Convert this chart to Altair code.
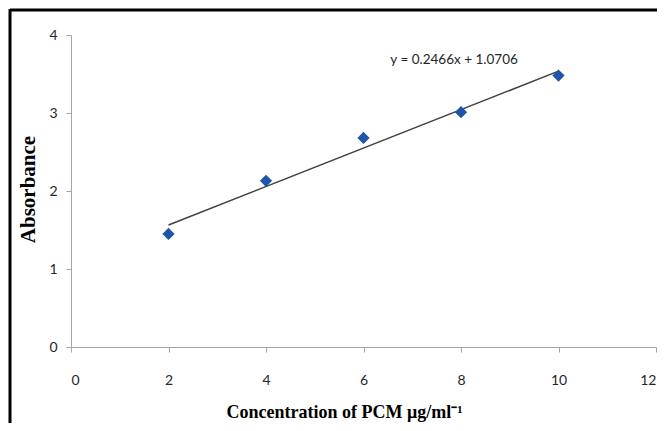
import altair as alt
import pandas as pd

# data
conc = [2, 4, 6, 8, 10]
absorb = [1.45, 2.13, 2.68, 3.01, 3.48]
slope = 0.2466
intercept = 1.0706
eq_label = "y = 0.2466x + 1.0706"
x_ticks = [0, 2, 4, 6, 8, 10, 12]
y_ticks = [0, 1, 2, 3, 4]

pts = pd.DataFrame({"x": conc, "y": absorb})
fit = pd.DataFrame({"x": [conc[0], conc[-1]],
                    "y": [slope * conc[0] + intercept, slope * conc[-1] + intercept]})
eq = pd.DataFrame({"x": [6.55], "y": [3.68], "t": [eq_label]})

W, H = 585, 312

xs = alt.Scale(domain=[0, 12], nice=False, zero=False)
ys = alt.Scale(domain=[0, 4], nice=False, zero=False)

xax = alt.Axis(values=x_ticks, format="d", title="Concentration of PCM μg/ml⁻¹", grid=False,
               domainColor="#a6a6a6", tickColor="#a6a6a6", tickSize=5,
               labelFont="Lato", labelFontSize=14, labelColor="#262626", labelPadding=21,
               titleFont="Liberation Serif", titleFontSize=18, titleFontWeight="bold",
               titleColor="#000000", titleX=273, titleY=65, titleAnchor="middle",
               titleBaseline="middle")
yax = alt.Axis(values=y_ticks, format="d", title="Absorbance", grid=False,
               domainColor="#a6a6a6", tickColor="#a6a6a6", tickSize=5,
               labelFont="Lato", labelFontSize=14, labelColor="#262626", labelPadding=9,
               titleFont="Liberation Serif", titleFontSize=21, titleFontWeight="bold",
               titleColor="#000000", titleX=-43, titleY=H / 2 - 2, titleAngle=-90,
               titleAlign="center", titleBaseline="middle")

points = alt.Chart(pts).mark_point(shape="diamond", filled=True, size=150,
                                   color="#1f55a8", opacity=1).encode(
    x=alt.X("x:Q", scale=xs, axis=xax),
    y=alt.Y("y:Q", scale=ys, axis=yax),
)

line = alt.Chart(fit).mark_line(color="#404040", strokeWidth=1.5).encode(
    x=alt.X("x:Q", scale=xs), y=alt.Y("y:Q", scale=ys))

text = alt.Chart(eq).mark_text(align="left", baseline="middle", font="Lato",
                               fontSize=13.5, color="#262626").encode(
    x=alt.X("x:Q", scale=xs), y=alt.Y("y:Q", scale=ys), text="t:N")

frame_top = alt.Chart(pd.DataFrame({"a": [0]})).mark_rule(color="black", strokeWidth=3).encode(
    x=alt.value(-61), x2=alt.value(640), y=alt.value(-25))
frame_left = alt.Chart(pd.DataFrame({"a": [0]})).mark_rule(color="black", strokeWidth=3).encode(
    x=alt.value(-61), y=alt.value(-26), y2=alt.value(420))

chart = alt.layer(line, points, text, frame_top, frame_left).properties(
    width=W, height=H,
    autosize=alt.AutoSizeParams(type="none"),
    padding={"left": 63, "top": 27, "right": 1, "bottom": 76},
    background="white",
).configure_view(stroke=None)

chart.save("out.html", embed_options={"renderer": "svg", "actions": False})
